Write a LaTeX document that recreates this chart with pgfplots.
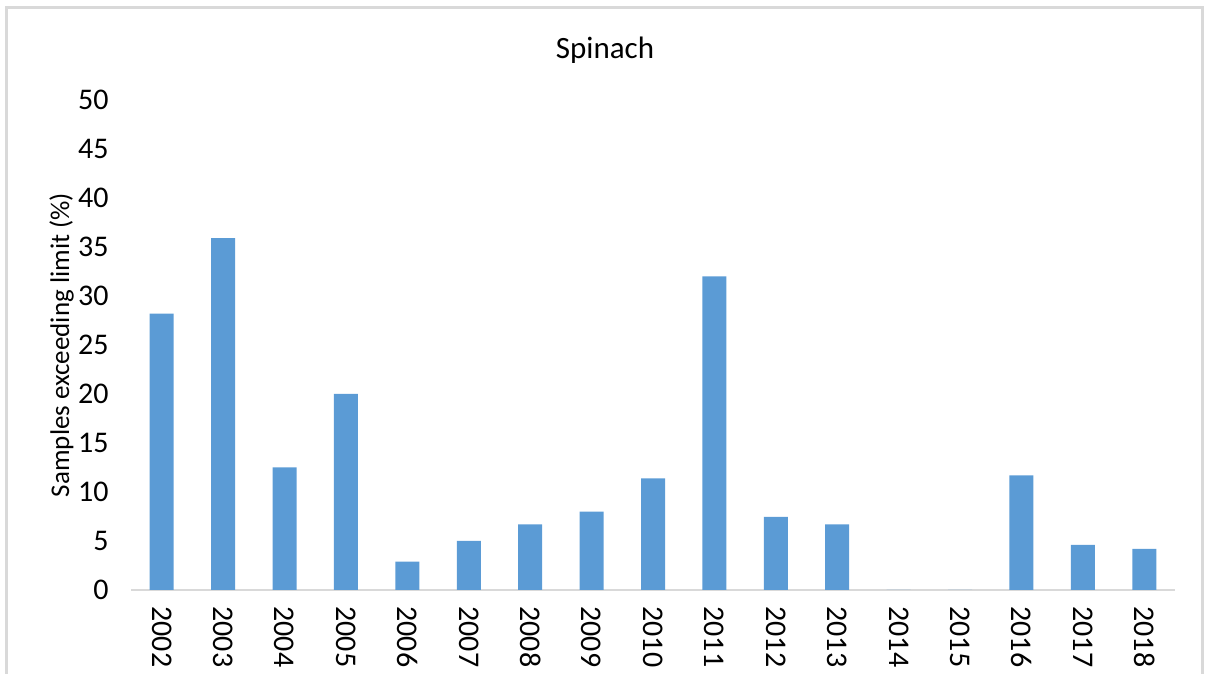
\documentclass[border=0pt]{standalone}
\usepackage{pgfplots}
\pgfplotsset{compat=1.18}
\usepackage{fontspec}
\setmainfont{Carlito}
\definecolor{barblue}{HTML}{5B9BD5}
\definecolor{framegray}{HTML}{D9D9D9}
\newcommand{\chartfont}{\fontsize{15pt}{17pt}\selectfont}
\begin{document}
\chartfont
\begin{tikzpicture}[x=1pt,y=1pt]
% picture area: 1206x674 px at 0.5pt per px
\useasboundingbox (0,0) rectangle (603,337);
\draw[framegray, line width=1.5pt] (3,0) -- (3,333) -- (601,333) -- (601,0);
\node at (302.5,312) {\fontsize{15.5pt}{17pt}\selectfont Spinach};
\begin{axis}[
    at={(65.5pt,42pt)}, anchor=south west,
    scale only axis,
    width=522pt, height=245pt,
    ybar, bar width=12pt,
    ymin=0, ymax=50,
    ytick={0,5,...,50},
    xmin=-0.5, xmax=16.5,
    xtick=data,
    xticklabels={2002,2003,2004,2005,2006,2007,2008,2009,2010,2011,2012,2013,2014,2015,2016,2017,2018},
    x tick label style={rotate=-90, anchor=west, font=\chartfont, xshift=3pt},
    y tick label style={font=\chartfont, xshift=-6pt},
    /pgf/number format/assume math mode=true,
    axis x line*=bottom,
    axis y line*=left,
    y axis line style={draw=none},
    x axis line style={framegray, line width=1pt, -},
    major tick length=0pt,
    ylabel={Samples exceeding limit (\%)},
    ylabel style={font=\fontsize{13.5pt}{15pt}\selectfont, yshift=-8pt},
    ]
    \addplot[fill=barblue, draw=none] coordinates {
        (0,28.2) (1,35.9) (2,12.5) (3,20.0) (4,2.9) (5,5.0) (6,6.7) (7,8.0)
        (8,11.4) (9,32.0) (10,7.45) (11,6.7) (12,0) (13,0) (14,11.7) (15,4.6) (16,4.2)};
\end{axis}
\end{tikzpicture}
\end{document}
